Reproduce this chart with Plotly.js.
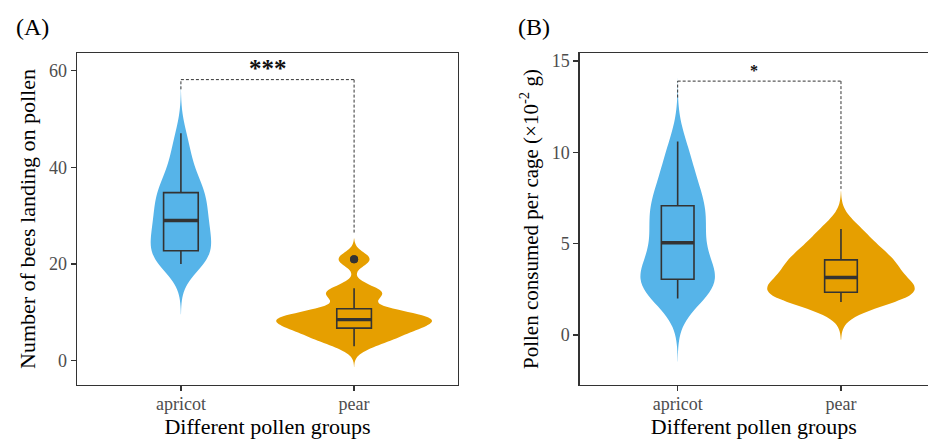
<!DOCTYPE html>
<html><head><meta charset="utf-8">
<script src="https://cdn.plot.ly/plotly-3.0.1.min.js"></script>
<style>html,body{margin:0;padding:0;background:#fff}#chart{width:928px;height:439px}</style>
</head><body><div id="chart"></div>
<script>
// ---- data ----
const categories = ['apricot', 'pear'];
const groupColors = ['#56B4E9', '#E69F00'];
// Panel A: number of bees landing on pollen
const beesApricot = [20, 20, 21, 21, 22, 22, 22, 22, 25, 25, 26, 26, 27, 28, 28, 30, 30, 31, 32, 33, 34, 34, 35, 36, 37, 38, 40, 42, 44, 47];
const beesPear = [3, 4, 5, 5, 6, 6, 7, 7, 8, 8, 8, 8, 9, 9, 9, 10, 10, 10, 13, 14, 14, 15, 21, 21];
// Panel B: pollen consumed per cage (x10^-2 g)
const pollenApricot = [2.0, 2.2, 2.4, 2.5, 2.7, 2.8, 2.9, 3.0, 3.2, 3.3, 3.5, 3.8, 4.2, 4.6, 4.9, 5.2, 5.5, 5.9, 6.2, 6.5, 6.8, 7.0, 7.1, 7.5, 7.9, 8.3, 8.8, 9.3, 9.9, 10.6];
const pollenPear = [1.8, 2.1, 2.3, 2.35, 2.6, 2.9, 3.4, 3.8, 4.0, 4.45, 5.0, 5.8];
const yTicksA = [0, 20, 40, 60];
const yTicksB = [0, 5, 10, 15];
const panelLabels = ['(A)', '(B)'];
const sigLabels = ['***', '*'];
const sigBarY = [58.1, 13.9];
const sigTipsA = [56.1, 26.5];
const sigTipsB = [13.0, 8.0];

// ---- helpers ----
function quantile7(s, p) {
  const h = (s.length - 1) * p, lo = Math.floor(h), hi = Math.ceil(h);
  return s[lo] + (h - lo) * (s[hi] - s[lo]);
}
function stats(arr) {
  const s = [...arr].sort((a, b) => a - b), n = s.length;
  const q1 = quantile7(s, 0.25), med = quantile7(s, 0.5), q3 = quantile7(s, 0.75);
  const iqr = q3 - q1, lf = q1 - 1.5 * iqr, uf = q3 + 1.5 * iqr;
  const inside = s.filter(v => v >= lf && v <= uf);
  const out = s.filter(v => v < lf || v > uf);
  const mean = s.reduce((a, b) => a + b, 0) / n;
  const sd = Math.sqrt(s.reduce((a, b) => a + (b - mean) * (b - mean), 0) / (n - 1));
  const bw = 0.9 * Math.min(sd, iqr / 1.34) * Math.pow(n, -0.2);
  return {q1, med, q3, lo: inside[0], hi: inside[inside.length - 1], out, bw, min: s[0], max: s[n - 1]};
}

const dark = '#333333';
const serif = 'Liberation Serif, Times New Roman, serif';

function panelTraces(series, xa, ya, group) {
  const traces = [];
  series.forEach((vals, i) => {
    const st = stats(vals), cat = categories[i], col = groupColors[i];
    traces.push({
      type: 'violin', x0: cat, y: vals, xaxis: xa, yaxis: ya,
      fillcolor: col, line: {color: col, width: 0}, opacity: 1,
      points: false, box: {visible: false}, meanline: {visible: false},
      bandwidth: st.bw, spanmode: 'manual', span: [st.min - 3 * st.bw, st.max + 3 * st.bw],
      scalegroup: group, scalemode: 'width', hoverinfo: 'skip', showlegend: false
    });
  });
  series.forEach((vals, i) => {
    const st = stats(vals), cat = categories[i], col = groupColors[i];
    traces.push({
      type: 'box', x: [cat], q1: [st.q1], median: [st.med], q3: [st.q3],
      lowerfence: [st.lo], upperfence: [st.hi], xaxis: xa, yaxis: ya,
      fillcolor: col, line: {color: dark, width: 1.6}, width: 0.2, whiskerwidth: 0,
      boxpoints: false, hoverinfo: 'skip', showlegend: false
    });
    traces.push({
      type: 'box', x: [cat], q1: [st.med], median: [st.med], q3: [st.med],
      lowerfence: [st.med], upperfence: [st.med], xaxis: xa, yaxis: ya,
      fillcolor: 'rgba(0,0,0,0)', line: {color: dark, width: 3.4}, width: 0.2, whiskerwidth: 0,
      boxpoints: false, hoverinfo: 'skip', showlegend: false
    });
    if (st.out.length) {
      traces.push({
        type: 'scatter', mode: 'markers', x: st.out.map(() => cat), y: st.out,
        xaxis: xa, yaxis: ya, marker: {color: dark, size: 8}, hoverinfo: 'skip', showlegend: false
      });
    }
  });
  return traces;
}

const traces = [
  ...panelTraces([beesApricot, beesPear], 'x', 'y', 'A'),
  ...panelTraces([pollenApricot, pollenPear], 'x2', 'y2', 'B')
];

const W = 928, H = 439;
const tickFont = {family: serif, size: 18, color: '#4d4d4d'};
const titleFont = {family: serif, size: 22, color: '#000'};
const axisCommon = {
  showline: true, linecolor: dark, linewidth: 1.3, ticks: 'outside', ticklen: 5,
  tickcolor: dark, tickwidth: 1.2, tickfont: tickFont, showgrid: false, zeroline: false,
  fixedrange: true
};
const yDomain = [1 - 385 / H, 1 - 53 / H];

function bracket(xref, yref, barY, tips) {
  const ln = {color: dark, width: 1, dash: '3px,2px'};
  return [
    {type: 'line', xref, yref, x0: 0, x1: 0, y0: tips[0], y1: barY, line: ln},
    {type: 'line', xref, yref, x0: 0, x1: 1, y0: barY, y1: barY, line: ln},
    {type: 'line', xref, yref, x0: 1, x1: 1, y0: barY, y1: tips[1], line: ln}
  ];
}

const layout = {
  width: W, height: H, margin: {l: 0, r: 0, t: 0, b: 0},
  paper_bgcolor: '#fff', plot_bgcolor: '#fff', showlegend: false,
  violinmode: 'overlay', boxmode: 'overlay', violingap: 0.1, violingroupgap: 0,
  xaxis: Object.assign({}, axisCommon, {
    domain: [77 / W, 458 / W], anchor: 'y', type: 'category', categoryorder: 'array',
    categoryarray: categories, range: [-0.6, 1.6], mirror: true, ticklabelstandoff: -3,
    title: {text: 'Different pollen groups', font: titleFont, standoff: 6}
  }),
  yaxis: Object.assign({}, axisCommon, {
    domain: yDomain, anchor: 'x', range: [-5, 63.6], tickvals: yTicksA, mirror: true,
    title: {text: 'Number of bees landing on pollen', font: titleFont, standoff: 7}
  }),
  xaxis2: Object.assign({}, axisCommon, {
    domain: [579.7 / W, 1], anchor: 'y2', type: 'category', categoryorder: 'array',
    categoryarray: categories, range: [-0.6, 1.533], mirror: true, ticklabelstandoff: -3,
    title: {text: 'Different pollen groups', font: titleFont, standoff: 6}
  }),
  yaxis2: Object.assign({}, axisCommon, {
    domain: yDomain, anchor: 'x2', range: [-2.74, 15.44], tickvals: yTicksB, mirror: false,
    title: {text: 'Pollen consumed per cage (×10<sup>-2</sup> g)', font: {family: serif, size: 21, color: '#000'}, standoff: 7}
  }),
  shapes: [...bracket('x', 'y', sigBarY[0], sigTipsA), ...bracket('x2', 'y2', sigBarY[1], sigTipsB)],
  annotations: [
    {xref: 'paper', yref: 'paper', x: 14 / W, y: 1 - 27 / H, xanchor: 'left', yanchor: 'middle',
     text: panelLabels[0], showarrow: false, font: {family: serif, size: 24, color: '#000'}},
    {xref: 'paper', yref: 'paper', x: 516 / W, y: 1 - 27 / H, xanchor: 'left', yanchor: 'middle',
     text: panelLabels[1], showarrow: false, font: {family: serif, size: 24, color: '#000'}},
    {xref: 'x', yref: 'y', x: 0.5, y: sigBarY[0], yanchor: 'bottom', yshift: -4,
     text: '<b>' + sigLabels[0] + '</b>', showarrow: false, font: {family: serif, size: 25, color: '#111'}},
    {xref: 'x2', yref: 'y2', x: 0.47, y: sigBarY[1], yanchor: 'bottom', yshift: 0,
     text: '<b>' + sigLabels[1] + '</b>', showarrow: false, font: {family: serif, size: 16, color: '#111'}}
  ]
};

Plotly.newPlot('chart', traces, layout, {displayModeBar: false, staticPlot: true});
</script>
</body></html>
